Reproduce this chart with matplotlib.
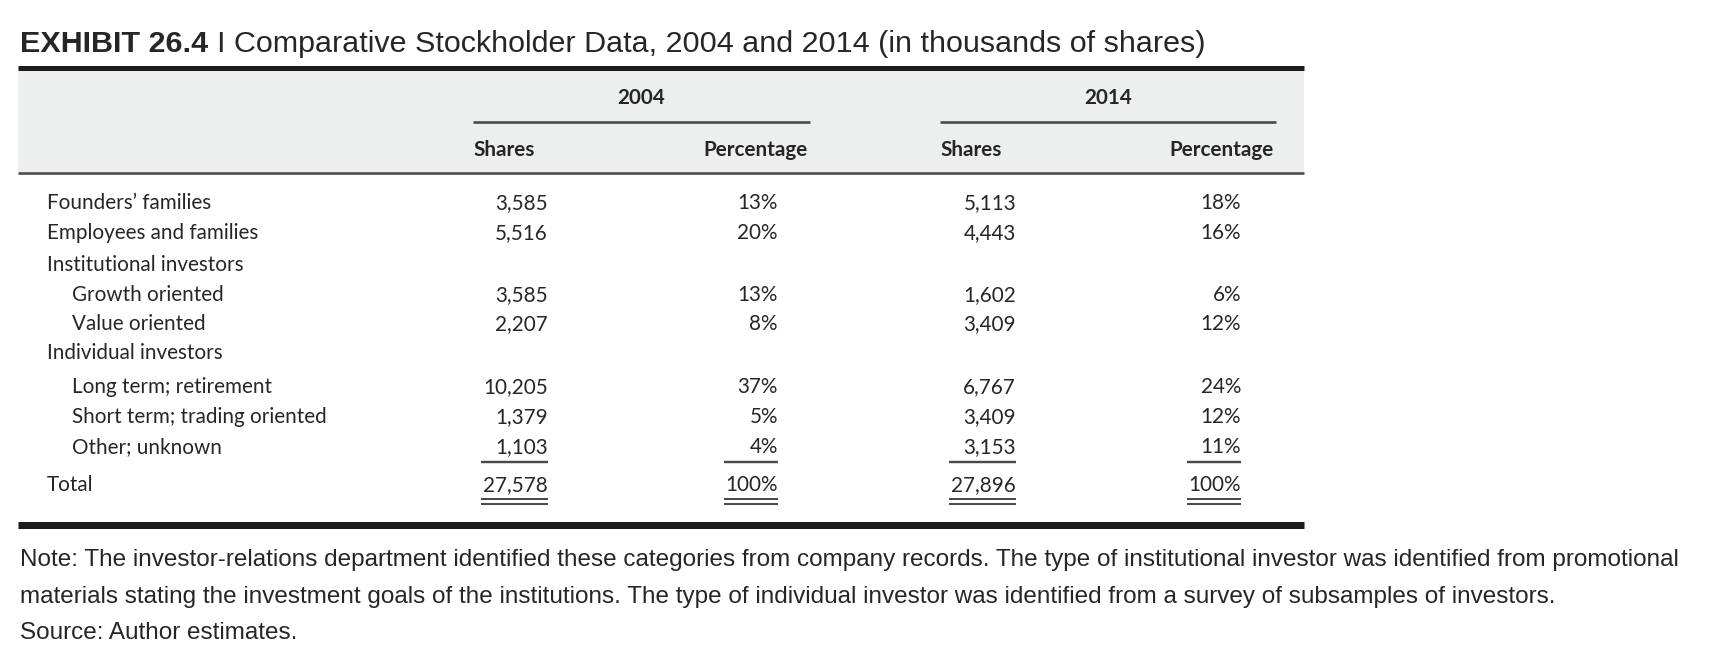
import matplotlib
matplotlib.use("Agg")
import matplotlib.pyplot as plt

# ---------------- data ----------------
row_labels = ["Founders\u2019 families", "Employees and families", "Institutional investors",
              "Growth oriented", "Value oriented", "Individual investors",
              "Long term; retirement", "Short term; trading oriented", "Other; unknown"]
row_indent = [0, 0, 0, 1, 1, 0, 1, 1, 1]
shares_2004 = [3585, 5516, None, 3585, 2207, None, 10205, 1379, 1103]
pct_2004 = [13, 20, None, 13, 8, None, 37, 5, 4]
shares_2014 = [5113, 4443, None, 1602, 3409, None, 6767, 3409, 3153]
pct_2014 = [18, 16, None, 6, 12, None, 24, 12, 11]
total_label = "Total"
totals_2004 = (27578, 100)
totals_2014 = (27896, 100)
years = ["2004", "2014"]
col_headers = ["Shares", "Percentage"]
title_bold = "EXHIBIT 26.4 "
title_rest = "I Comparative Stockholder Data, 2004 and 2014 (in thousands of shares)"
notes = ["Note: The investor-relations department identified these categories from company records. The type of institutional investor was identified from promotional",
         "materials stating the investment goals of the institutions. The type of individual investor was identified from a survey of subsamples of investors.",
         "Source: Author estimates."]

# ---------------- layout (pixels) ----------------
W, H = 1721, 657
fig = plt.figure(figsize=(W / 100, H / 100), dpi=100)
ax = fig.add_axes([0, 0, 1, 1])
ax.set_xlim(0, W)
ax.set_ylim(H, 0)
ax.axis("off")
renderer = fig.canvas.get_renderer()

TXT = "#262626"
LINE = "#4a4a4a"
TFONT = ["Lato", "DejaVu Sans"]
NFONT = ["Liberation Sans", "DejaVu Sans"]


def width_px(t):
    return t.get_window_extent(renderer=renderer).width


def fit(x, y, s, target_w, size0, **kw):
    t = ax.text(x, y, s, fontsize=size0, **kw)
    w = width_px(t)
    t.set_fontsize(size0 * target_w / w)
    return t


# title
tb = fit(20, 44, title_bold, 160, 20, family=NFONT, weight="bold", color=TXT,
         va="center", ha="left")
# regular part measured from total width
tr = ax.text(0, 44, title_rest, fontsize=tb.get_fontsize(), family=NFONT, color=TXT,
             va="center", ha="left")
bw = width_px(tb)
tr.set_x(20 + bw)
total_w = bw + width_px(tr)
scale = (1199 - 20) / total_w
tb.set_fontsize(tb.get_fontsize() * scale)
tr.set_fontsize(tr.get_fontsize() * scale)
tr.set_x(20 + width_px(tb))

# table frame
x0, x1 = 18, 1304
ax.fill_between([x0, x1], 70, 172, color="#edeeee", lw=0, zorder=0)
ax.plot([x0, x1], [67.5, 67.5], color="#1c1c1c", lw=5 * 0.72, solid_capstyle="butt")
ax.plot([x0, x1], [173, 173], color=LINE, lw=2.6 * 0.72, solid_capstyle="butt")
ax.plot([x0, x1], [525, 525], color="#1c1c1c", lw=7 * 0.72, solid_capstyle="butt")

# column geometry
share_right = [548, 1016]
pct_right = [778, 1241]
group_left = [473, 940]
group_right = [810, 1276]
pct_hdr_right = [808, 1274]

# sizing of table font from a reference label
probe = ax.text(0, 0, row_labels[7], fontsize=16)
TSIZE = 16 * 293 / width_px(probe)
probe.remove()

for g in range(2):
    ax.text((group_left[g] + group_right[g]) / 2, 98, years[g], fontsize=TSIZE,
            family=TFONT, weight="bold", color=TXT, ha="center", va="center")
    ax.plot([group_left[g], group_right[g]], [122, 122], color=LINE, lw=2.6 * 0.72,
            solid_capstyle="butt")
    ax.text(group_left[g], 150, col_headers[0], fontsize=TSIZE, family=TFONT,
            weight="bold", color=TXT, ha="left", va="center")
    ax.text(pct_hdr_right[g], 150, col_headers[1], fontsize=TSIZE, family=TFONT,
            weight="bold", color=TXT, ha="right", va="center")

row_y = [203, 233, 265, 295, 324, 353, 387, 417, 447]
total_y = 485
label_x = [47, 72]

series = [(shares_2004, pct_2004), (shares_2014, pct_2014)]
for i, lab in enumerate(row_labels):
    y = row_y[i]
    ax.text(label_x[row_indent[i]], y, lab, fontsize=TSIZE, family=TFONT, color=TXT,
            ha="left", va="center")
    for g, (sh, pc) in enumerate(series):
        if sh[i] is not None:
            ax.text(share_right[g], y, f"{sh[i]:,}", fontsize=TSIZE, family=TFONT,
                    color=TXT, ha="right", va="center")
        if pc[i] is not None:
            ax.text(pct_right[g], y, f"{pc[i]}%", fontsize=TSIZE, family=TFONT,
                    color=TXT, ha="right", va="center")

ax.text(label_x[0], total_y, total_label, fontsize=TSIZE, family=TFONT, color=TXT,
        ha="left", va="center")
for g, tot in enumerate([totals_2004, totals_2014]):
    ts = ax.text(share_right[g], total_y, f"{tot[0]:,}", fontsize=TSIZE, family=TFONT,
                 color=TXT, ha="right", va="center")
    tp = ax.text(pct_right[g], total_y, f"{tot[1]}%", fontsize=TSIZE, family=TFONT,
                 color=TXT, ha="right", va="center")
    for t, right in ((ts, share_right[g]), (tp, pct_right[g])):
        w = width_px(t)
        left = right - w - 2
        ax.plot([left, right], [462, 462], color=LINE, lw=2.4 * 0.72, solid_capstyle="butt")
        ax.plot([left, right], [499, 499], color=LINE, lw=2.0 * 0.72, solid_capstyle="butt")
        ax.plot([left, right], [504, 504], color=LINE, lw=2.0 * 0.72, solid_capstyle="butt")

# notes
n0 = fit(20, 560, notes[0], 1682 - 20, 15, family=NFONT, color=TXT, ha="left", va="center")
NSIZE = n0.get_fontsize()
ax.text(20, 597, notes[1], fontsize=NSIZE, family=NFONT, color=TXT, ha="left", va="center")
ax.text(20, 633, notes[2], fontsize=NSIZE, family=NFONT, color=TXT, ha="left", va="center")

fig.savefig("out.png", dpi=100, facecolor="white")
